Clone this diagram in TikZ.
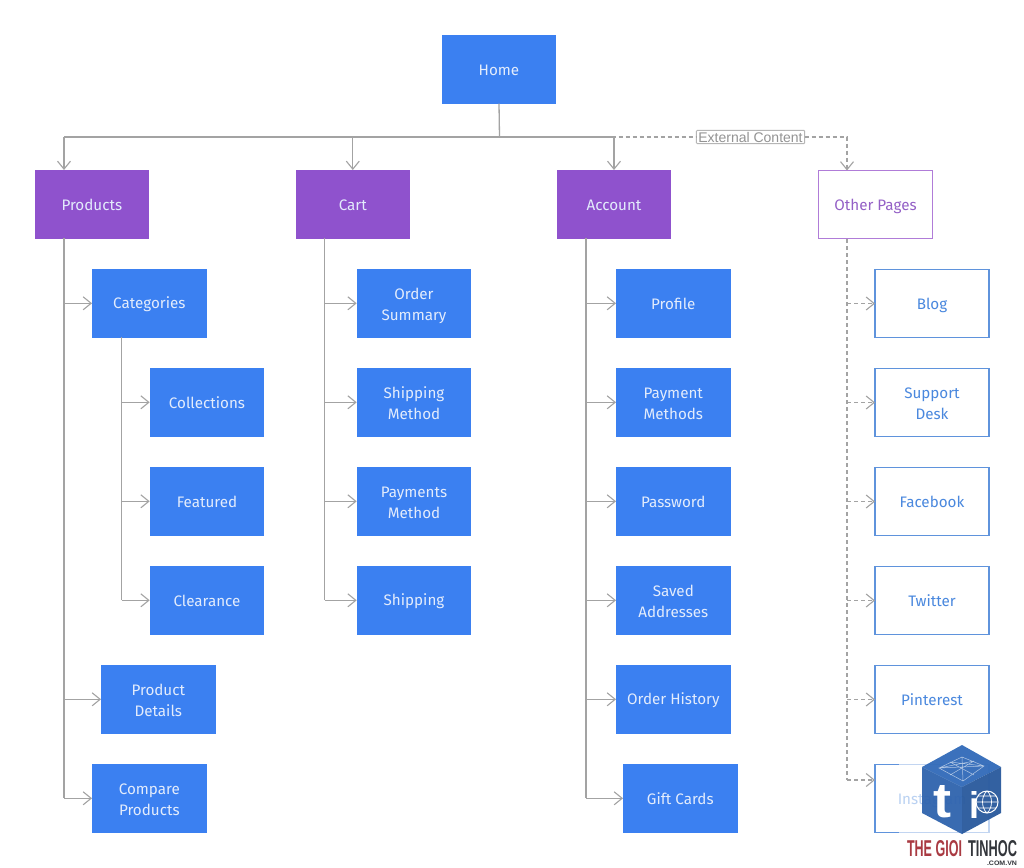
\documentclass[tikz,border=0pt]{standalone}
\usepackage{fontspec}
\setmainfont{Fira Sans}
\newfontfamily\logofont{Liberation Sans}
\usetikzlibrary{arrows.meta}
\definecolor{bluefill}{HTML}{3B80F1}
\definecolor{purplefill}{HTML}{8F52CD}
\definecolor{boxtext}{HTML}{E3ECFC}
\definecolor{outlineblue}{HTML}{5F93DC}
\definecolor{outlinetext}{HTML}{4A88DE}
\definecolor{otherline}{HTML}{B07CD8}
\definecolor{othertext}{HTML}{9460C6}
\definecolor{connline}{HTML}{A3A3A3}
\definecolor{cubemid}{HTML}{2F69B8}
\definecolor{cubedark}{HTML}{27589C}
\definecolor{cubeside}{HTML}{2D62AD}
\definecolor{logored}{HTML}{A93A42}
\definecolor{logodark}{HTML}{33363B}
\newcommand{\firstline}{\rule{0pt}{14.5pt}}
\newcommand{\lastline}{\rule[-3pt]{0pt}{3pt}}
\newcommand{\lowered}[2]{\raisebox{-0.7pt}[14.5pt][3pt]{#1}\\\raisebox{-0.7pt}[14.5pt][3pt]{#2}}
\tikzset{
  every node/.style={outer sep=0pt},
  pagebox/.style={rectangle, minimum width=114.6pt, minimum height=68.6pt, inner sep=0pt, anchor=north west, fill=bluefill, text=boxtext,
    align=center, font=\fontsize{15.2}{20.7}\selectfont, execute at begin node=\firstline, execute at end node=\lastline},
  sectionbox/.style={pagebox, fill=purplefill},
  otherbox/.style={pagebox, fill=white, draw=otherline, line width=1.3pt, text=othertext, minimum width=114pt, minimum height=68pt},
  linkbox/.style={pagebox, fill=white, draw=outlineblue, line width=1.3pt, text=outlinetext, minimum width=114pt, minimum height=68pt},
  conn/.style={draw=connline, line width=1.3pt, -{Straight Barb[length=8pt,width=13pt,line width=1.1pt]}},
  plainconn/.style={draw=connline, line width=1.3pt},
  dashconn/.style={conn, dash pattern=on 4pt off 3pt, line width=1.2pt},
  dashplain/.style={plainconn, dash pattern=on 4pt off 3pt, line width=1.2pt},
  tagbox/.style={rectangle, draw=connline!80, fill=white, line width=1pt, text=connline!90!black, inner xsep=2pt, inner ysep=1.5pt, rounded corners=1pt, font=\fontsize{14}{15}\logofont},
  logotext/.style={inner sep=0pt, font=\logofont\bfseries},
}
\begin{document}
\begin{tikzpicture}[x=1pt,y=-1pt]
\useasboundingbox (0,0) rectangle (1024,867);
\fill[white] (0,0) rectangle (1024,867);

% nodes
\node[pagebox] (home) at (441.7,35) {Home};
\node[sectionbox] (products) at (34.5,170) {Products};
\node[sectionbox] (cart) at (295.5,170) {Cart};
\node[sectionbox] (account) at (556.7,170) {Account};
\node[otherbox] (other) at (818.5,170.5) {Other Pages};

\node[pagebox] (categories) at (92,269) {Categories};
\node[pagebox] (collections) at (149.7,368) {Collections};
\node[pagebox] (featured) at (149.7,467) {Featured};
\node[pagebox] (clearance) at (149.7,566) {Clearance};
\node[pagebox] (details) at (101,665) {\lowered{Product}{Details}};
\node[pagebox] (compare) at (92,764) {\lowered{Compare}{Products}};

\node[pagebox] (summary) at (356.7,269) {\lowered{Order}{Summary}};
\node[pagebox] (shipmethod) at (356.7,368) {\lowered{Shipping}{Method}};
\node[pagebox] (paymethod) at (356.7,467) {\lowered{Payments}{Method}};
\node[pagebox] (shipping) at (356.7,566) {Shipping};

\node[pagebox] (profile) at (616,269) {Profile};
\node[pagebox] (payments) at (616,368) {\lowered{Payment}{Methods}};
\node[pagebox] (password) at (616,467) {Password};
\node[pagebox] (saved) at (616,566) {\lowered{Saved}{Addresses}};
\node[pagebox] (history) at (616,665) {Order History};
\node[pagebox] (gift) at (623,764) {Gift Cards};

\node[linkbox] (blog) at (875,269.5) {Blog};
\node[linkbox] (support) at (875,368.5) {\lowered{Support}{Desk}};
\node[linkbox] (facebook) at (875,467.5) {Facebook};
\node[linkbox] (twitter) at (875,566.5) {Twitter};
\node[linkbox] (pinterest) at (875,665.5) {Pinterest};
\node[linkbox] (instagram) at (875,764.5) {Instagram};

% trunk positions
\coordinate (bus) at (499.5,137);
\coordinate (tp) at (64,238);
\coordinate (tc) at (324.5,238);
\coordinate (ta) at (586,238);
\coordinate (to) at (847,239);
\coordinate (tcat) at (121.5,337);
\coordinate (instaIn) at (875,780);

% top bus
\draw[plainconn] (home.south) -- (bus);
\draw[plainconn] (tp |- bus) -- (account.north |- bus);
\draw[conn] (tp |- bus) -- (products.north -| tp);
\draw[conn] (cart.north |- bus) -- (cart.north);
\draw[conn] (account.north |- bus) -- (account.north);

% products
\draw[plainconn] (tp) -- (tp |- compare.west);
\draw[conn] (tp |- categories.west) -- (categories.west);
\draw[conn] (tp |- details.west) -- (details.west);
\draw[conn] (tp |- compare.west) -- (compare.west);
\draw[plainconn] (tcat) -- (tcat |- clearance.west);
\draw[conn] (tcat |- collections.west) -- (collections.west);
\draw[conn] (tcat |- featured.west) -- (featured.west);
\draw[conn] (tcat |- clearance.west) -- (clearance.west);

% cart
\draw[plainconn] (tc) -- (tc |- shipping.west);
\draw[conn] (tc |- summary.west) -- (summary.west);
\draw[conn] (tc |- shipmethod.west) -- (shipmethod.west);
\draw[conn] (tc |- paymethod.west) -- (paymethod.west);
\draw[conn] (tc |- shipping.west) -- (shipping.west);

% account
\draw[plainconn] (ta) -- (ta |- gift.west);
\draw[conn] (ta |- profile.west) -- (profile.west);
\draw[conn] (ta |- payments.west) -- (payments.west);
\draw[conn] (ta |- password.west) -- (password.west);
\draw[conn] (ta |- saved.west) -- (saved.west);
\draw[conn] (ta |- history.west) -- (history.west);
\draw[conn] (ta |- gift.west) -- (gift.west);

% external
\node[tagbox] (tag) at (750.5,137) {External Content};
\draw[dashplain] (bus) -- (tag.west);
\draw[dashconn] (tag.east) -| (other.north -| to);
\draw[dashplain] (to) -- (to |- instaIn);
\draw[dashconn] (to |- blog.west) -- (blog.west);
\draw[dashconn] (to |- support.west) -- (support.west);
\draw[dashconn] (to |- facebook.west) -- (facebook.west);
\draw[dashconn] (to |- twitter.west) -- (twitter.west);
\draw[dashconn] (to |- pinterest.west) -- (pinterest.west);
\draw[dashconn] (to |- instaIn) -- (instaIn);

% watermark haze
\fill[white,opacity=.62] (899,758) rectangle (1003,836);

% cube
\begin{scope}[opacity=.94]
\fill[cubemid] (962,745) -- (1001,767) -- (962,787) -- (922,767) -- cycle;
\fill[cubeside] (922,767) -- (962,787) -- (962,834) -- (922,813) -- cycle;
\fill[cubedark] (1001,767) -- (962,787) -- (962,834) -- (1001,813) -- cycle;
\end{scope}
\draw[white,opacity=.6,line width=.5pt]
  (939,768) -- (962,757) -- (984,766) -- (963,781) -- cycle
  (950,762) -- (974,775) (974,761) -- (950,775) (939,768) -- (984,766) (962,757) -- (963,781)
  (950,762) -- (984,766) (939,768) -- (974,761);
\node[logotext, text=white] (logot) at (942.5,802) {\resizebox{18pt}{32pt}{t}};
\node[logotext, text=white] (logoi) at (974.5,805) {\resizebox{10pt}{27pt}{i}};
\draw[white,line width=1pt] (987,802) circle (11pt);
\draw[white,line width=.7pt] (987,791) .. controls (981,796) and (981,808) .. (987,813)
  (987,791) .. controls (993,796) and (993,808) .. (987,813)
  (976,802) -- (998,802) (978,796) -- (996,796) (978,808) -- (996,808);

% logo text
\node[logotext, anchor=west, text=logored] (logoa) at (907,849) {\resizebox{55pt}{16pt}{THE GIOI}};
\node[logotext, anchor=east, text=logodark] (logob) at (1017,849) {\resizebox{49pt}{16pt}{TINHOC}};
\node[logotext, anchor=east, text=logodark] (logoc) at (1017,863) {\resizebox{30pt}{4.5pt}{.COM.VN}};
\end{tikzpicture}
\end{document}
